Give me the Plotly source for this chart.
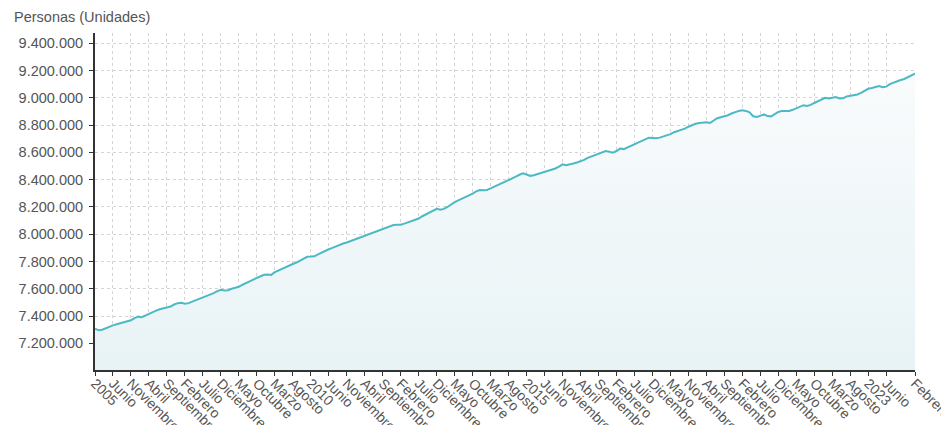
import pandas as pd
import plotly.graph_objects as go

# Monthly values (thousands of persons), Jan 2005 - Feb 2024 (one month missing in 2018)
values_k = [
    7308, 7296, 7300, 7312, 7322, 7332, 7340, 7347, 7352, 7360,
    7370, 7385, 7396, 7392, 7405, 7420, 7430, 7440, 7450, 7457,
    7463, 7470, 7485, 7495, 7497, 7490, 7495, 7505, 7518, 7530,
    7540, 7548, 7556, 7568, 7583, 7593, 7588, 7590, 7600, 7606,
    7615, 7630, 7645, 7655, 7668, 7680, 7693, 7703, 7705, 7702,
    7722, 7735, 7745, 7758, 7770, 7782, 7792, 7805, 7820, 7835,
    7836, 7838, 7852, 7866, 7880, 7890, 7900, 7912, 7922, 7932,
    7940, 7950, 7958, 7968, 7982, 7992, 8000, 8010, 8020, 8030,
    8038, 8048, 8060, 8068, 8069, 8070, 8078, 8086, 8094, 8102,
    8115, 8132, 8146, 8160, 8176, 8186, 8179, 8186, 8200, 8220,
    8236, 8248, 8260, 8270, 8280, 8298, 8314, 8324, 8322, 8325,
    8336, 8348, 8356, 8370, 8383, 8395, 8408, 8422, 8436, 8446,
    8438, 8428, 8432, 8440, 8446, 8456, 8466, 8472, 8482, 8495,
    8512, 8506, 8510, 8518, 8526, 8533, 8545, 8560, 8570, 8582,
    8590, 8600, 8610, 8605, 8598, 8610, 8628, 8624, 8636, 8652,
    8665, 8675, 8686, 8698, 8708, 8706, 8703, 8708, 8715, 8722,
    8734, 8748, 8756, 8765, 8774, 8788, 8802, 8810, 8815, 8820,
    8820, 8815, 8835, 8850, 8858, 8865, 8872, 8885, 8896, 8904,
    8908, 8904, 8893, 8865, 8860, 8868, 8878, 8866, 8864, 8880,
    8896, 8904, 8903, 8904, 8912, 8924, 8938, 8946, 8940, 8948,
    8962, 8976, 8990, 9000, 8995, 9000, 9005, 8995, 8996, 9010,
    9016, 9018, 9024, 9036, 9052, 9066, 9072, 9080, 9086, 9078,
    9082, 9100, 9112, 9120, 9130, 9138, 9150, 9165, 9178,
]
values = [v * 1000 for v in values_k]

months = pd.date_range("2005-01-01", "2024-02-01", freq="MS")
months = [m for m in months if m.strftime("%Y-%m") != "2018-08"]
categories = [m.strftime("%Y-%m") for m in months]

tick_labels = [
    "2005", "Junio", "Noviembre", "Abril", "Septiembre", "Febrero", "Julio", "Diciembre",
    "Mayo", "Octubre", "Marzo", "Agosto",
    "2010", "Junio", "Noviembre", "Abril", "Septiembre", "Febrero", "Julio", "Diciembre",
    "Mayo", "Octubre", "Marzo", "Agosto",
    "2015", "Junio", "Noviembre", "Abril", "Septiembre", "Febrero", "Julio", "Diciembre", "Mayo",
    "Noviembre", "Abril", "Septiembre", "Febrero", "Julio", "Diciembre", "Mayo", "Octubre",
    "Marzo", "Agosto",
    "2023", "Junio", "Febrero",
]
# every 5th month, plus the final month
tick_cats = categories[0:5 * (len(tick_labels) - 1):5] + [categories[-1]]

y_ticks = [7200000, 7400000, 7600000, 7800000, 8000000, 8200000, 8400000,
           8600000, 8800000, 9000000, 9200000, 9400000]

FONT = "Liberation Sans, Arial, sans-serif"
TXT = "#555555"

fig = go.Figure()
fig.add_trace(go.Scatter(
    x=categories, y=values, mode="lines",
    line=dict(color="#4cb9c4", width=2),
    fill="tozeroy",
    fillgradient=dict(type="vertical", start=7.0e6, stop=9.2e6,
                      colorscale=[[0, "#e8f3f6"], [1, "#f9fbfc"]]),
    hoverinfo="skip",
))

# page has an 8px body margin; margins compensate so the plot area sits at x 95-915, y 33-370
L, R, T, B = 87, 42, 25, 63
PW, PH = 949 - L - R, 425 - T - B
fig.update_layout(
    width=949, height=425,
    margin=dict(l=L, r=R, t=T, b=B),
    paper_bgcolor="white", plot_bgcolor="white",
    separators=",.",
    showlegend=False,
    font=dict(family=FONT, size=14, color=TXT),
    annotations=[dict(
        text="Personas (Unidades)", xref="paper", yref="paper",
        x=(4 - L) / PW, y=(T + PH - 9) / PH,
        xanchor="left", yanchor="middle",
        showarrow=False, font=dict(family=FONT, size=14.5, color=TXT),
    )],
)

fig.update_xaxes(
    type="category", range=[0, len(categories) - 1],
    tickmode="array", tickvals=tick_cats, ticktext=tick_labels,
    tickangle=45, tickfont=dict(family=FONT, size=14, color=TXT),
    ticklabelstandoff=-6,
    showgrid=True, gridcolor="#d4d4d4", griddash="dot", gridwidth=1,
    showline=True, linecolor="#333333", linewidth=1.5,
    ticks="outside", ticklen=4, tickcolor="#333333",
    automargin=False, zeroline=False,
)
fig.update_yaxes(
    range=[7.005e6, 9.475e6],
    tickmode="array", tickvals=y_ticks, tickformat=",.0f",
    tickfont=dict(family=FONT, size=14.5, color=TXT),
    ticklabelstandoff=3,
    showgrid=True, gridcolor="#d4d4d4", griddash="dot", gridwidth=1,
    showline=True, linecolor="#333333", linewidth=2,
    ticks="outside", ticklen=4, tickcolor="#333333",
    automargin=False, zeroline=False,
)

fig.write_html("out.html")
